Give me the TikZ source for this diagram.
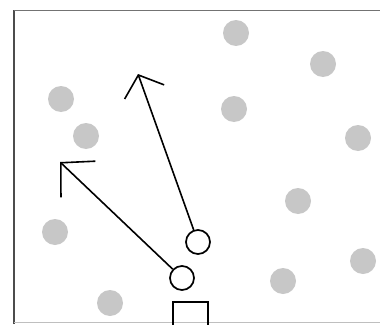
\documentclass[tikz,border=0pt]{standalone}
\usetikzlibrary{arrows.meta}

\begin{document}
\begin{tikzpicture}[x=1pt,y=-1pt]
        \tikzset{ball/.style = {shape=circle,fill=black!22,minimum size=26pt,inner sep=0pt}};
        \tikzset{player/.style = {shape=circle,draw,line width=1.7pt,minimum size=24pt,inner sep=0pt}};
        \tikzset{edge/.style = {line width=1.6pt,-{Straight Barb[length=18pt,width=42pt,line width=1.6pt]}}};
        \clip (0,0) rectangle (380,324);
        % frame
        \draw[black!70,line width=2pt] (14,324) -- (14,10);
        \draw[black!55,line width=1pt] (14,10) -- (380,10);
        \draw[black!25,line width=1pt] (14,322.5) -- (380,322.5);
        % balls
        \node[ball] (b1) at (236,33) {};
        \node[ball] (b2) at (323,64) {};
        \node[ball] (b3) at (61,99) {};
        \node[ball] (b4) at (234,109) {};
        \node[ball] (b5) at (86,136) {};
        \node[ball] (b6) at (358,138) {};
        \node[ball] (b7) at (298,201) {};
        \node[ball] (b8) at (55,232) {};
        \node[ball] (b9) at (363,261) {};
        \node[ball] (b10) at (283,281) {};
        \node[ball] (b11) at (110,303) {};
        % players and goal
        \node[player] (p1) at (198,242) {};
        \node[player] (p2) at (182,278) {};
        \node[shape=rectangle,draw,line width=1.7pt,minimum width=35pt,minimum height=40pt] (goal) at (190.5,322) {};
        \coordinate (t1) at (138,74);
        \coordinate (t2) at (60,162);
        \draw[edge] (p1) -- (t1);
        \draw[edge,-{Straight Barb[length=24pt,width=50pt,line width=1.6pt]}] (p2) -- (t2);
    \end{tikzpicture}
\end{document}
